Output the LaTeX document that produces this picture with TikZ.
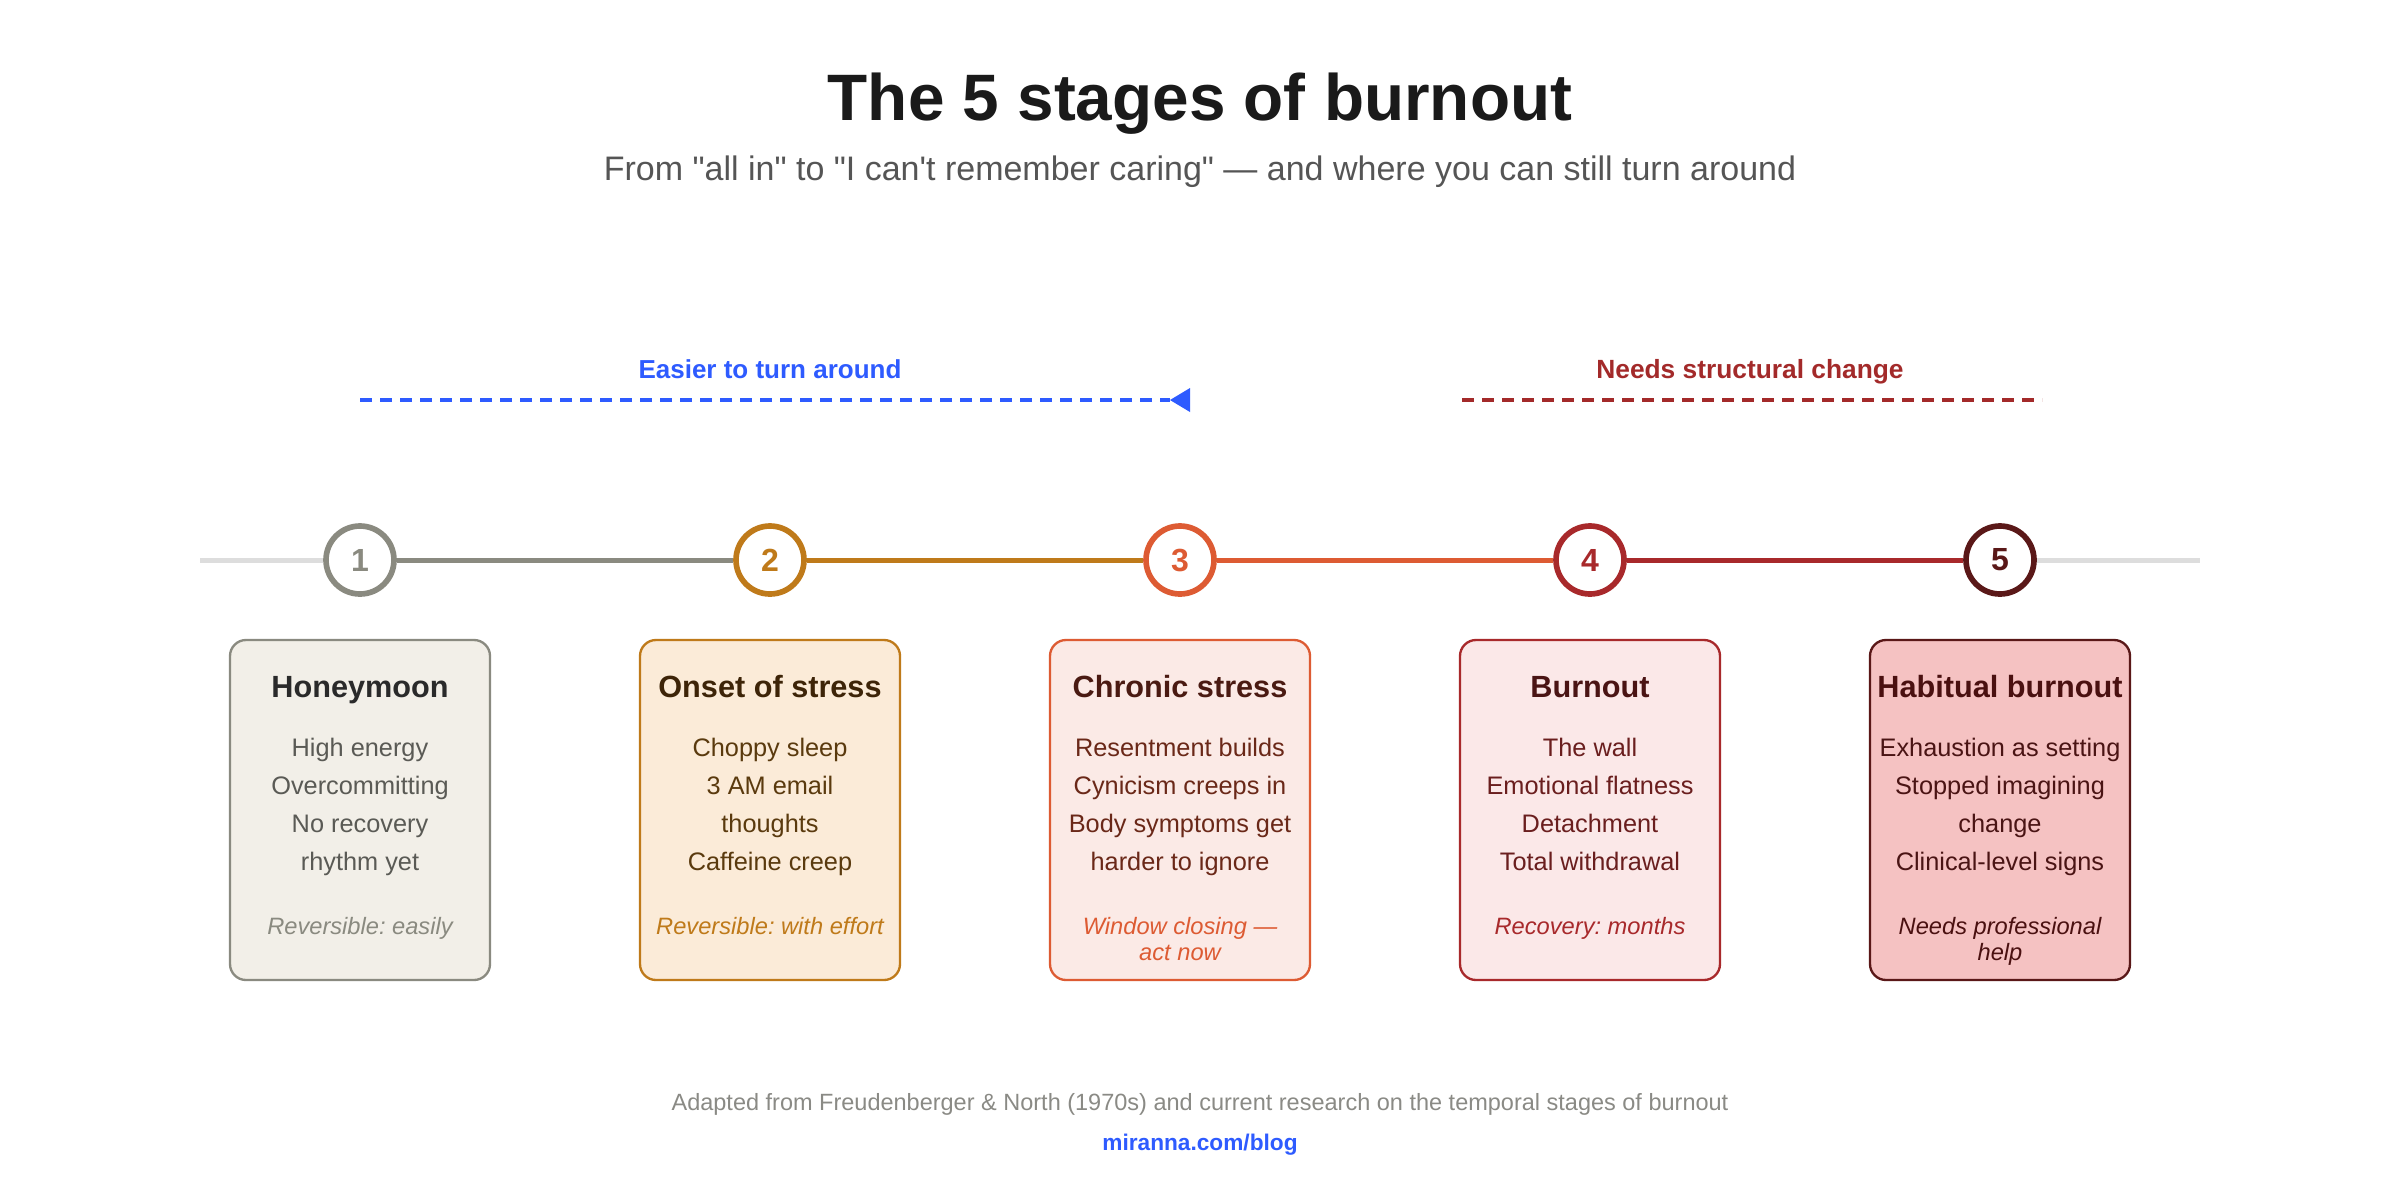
\documentclass[tikz,border=0pt]{standalone}
\usepackage{fontspec}
\setmainfont{Liberation Sans}[Ligatures=TeXOff]
\frenchspacing
\definecolor{ttl}{HTML}{1A1A1A}
\definecolor{sub}{HTML}{555555}
\definecolor{blu}{HTML}{2E5BFF}
\definecolor{redl}{HTML}{A32A2A}
\definecolor{lg}{HTML}{DDDDDD}
\definecolor{foot}{HTML}{8A8A85}
\definecolor{d1}{HTML}{8A8A80}\definecolor{f1}{HTML}{F2EFE8}\definecolor{t1}{HTML}{2A2A2A}\definecolor{x1}{HTML}{5A5A55}
\definecolor{d2}{HTML}{BF7A1A}\definecolor{f2}{HTML}{FBEBD8}\definecolor{t2}{HTML}{3D2408}\definecolor{x2}{HTML}{5A3A0E}
\definecolor{d3}{HTML}{DD5B33}\definecolor{f3}{HTML}{FBEAE6}\definecolor{t3}{HTML}{4A1A12}\definecolor{x3}{HTML}{6A2818}
\definecolor{d4}{HTML}{A8292B}\definecolor{f4}{HTML}{FBE8E8}\definecolor{t4}{HTML}{4A1414}\definecolor{x4}{HTML}{6A1E1E}
\definecolor{d5}{HTML}{5A1818}\definecolor{f5}{HTML}{F5C2C2}\definecolor{t5}{HTML}{4A1010}\definecolor{x5}{HTML}{4A1414}
\newcommand{\dq}{\symbol{34}}
\newcommand{\sq}{\symbol{39}}
\begin{document}
\begin{tikzpicture}[x=0.6pt,y=-0.6pt,
  txt/.style={anchor=base,inner sep=0pt,outer sep=0pt},
  cardtitle/.style={txt,font=\fontsize{9.2}{11}\selectfont\bfseries},
  cardbody/.style={txt,font=\fontsize{7.6}{9}\selectfont},
  cardnote/.style={txt,font=\fontsize{7.1}{8.5}\selectfont\itshape},
  cardbox/.style={draw,rounded corners=4.8pt,line width=0.7pt,minimum width=78pt,minimum height=102pt,inner sep=0pt},
  stage/.style={circle,draw,fill=white,line width=1.7pt,minimum size=20.4pt,inner sep=0pt,font=\fontsize{9.6}{11}\selectfont\bfseries},
  seg/.style={line width=1.5pt},
  zone/.style={line width=1.2pt,dash pattern=on 3.6pt off 2.4pt}]
\useasboundingbox[fill=white] (0,0) rectangle (1200,600);

% header
\node[txt,text=ttl,font=\fontsize{19.7}{22}\selectfont\bfseries] (title) at (600,60) {The 5 stages of burnout};
\node[txt,text=sub,font=\fontsize{10.2}{12}\selectfont] (subtitle) at (600,90) {From \dq all in\dq{} to \dq I can\sq t remember caring\dq{} — and where you can still turn around};

% zones
\node[txt,text=blu,font=\fontsize{7.8}{9}\selectfont\bfseries] (easy) at (385,189) {Easier to turn around};
\coordinate (bs) at (180,200);
\coordinate (be) at (585,200);
\draw[zone,blu] (bs) -- (be);
\fill[blu] (be) -- (595,194) -- (595,206) -- cycle;
\node[txt,text=redl,font=\fontsize{7.9}{9}\selectfont\bfseries] (hard) at (875,189) {Needs structural change};
\coordinate (rs) at (731,200);
\coordinate (re) at (1021,200);
\draw[zone,redl] (rs) -- (re);

% timeline
\coordinate (tl) at (100,280);
\coordinate (tr) at (1100,280);
\node[stage,draw=d1,text=d1] (c1) at (180,280) {1};
\node[stage,draw=d2,text=d2] (c2) at (385,280) {2};
\node[stage,draw=d3,text=d3] (c3) at (590,280) {3};
\node[stage,draw=d4,text=d4] (c4) at (795,280) {4};
\node[stage,draw=d5,text=d5] (c5) at (1000,280) {5};
\draw[seg,lg] (tl) -- (c1);
\draw[seg,d1] (c1) -- (c2);
\draw[seg,d2] (c2) -- (c3);
\draw[seg,d3] (c3) -- (c4);
\draw[seg,d4] (c4) -- (c5);
\draw[seg,lg] (c5) -- (tr);

% cards
\node[cardbox,draw=d1,fill=f1] (b1) at (180,405) {};
\node[cardtitle,text=t1] (b1t) at (180,348.5) {Honeymoon};
\node[cardbody,text=x1] (b1a) at (180,378) {High energy};
\node[cardbody,text=x1] (b1b) at (180,397) {Overcommitting};
\node[cardbody,text=x1] (b1c) at (180,416) {No recovery};
\node[cardbody,text=x1] (b1d) at (180,435) {rhythm yet};
\node[cardnote,text=d1] (b1n) at (180,467) {Reversible: easily};

\node[cardbox,draw=d2,fill=f2] (b2) at (385,405) {};
\node[cardtitle,text=t2] (b2t) at (385,348.5) {Onset of stress};
\node[cardbody,text=x2] (b2a) at (385,378) {Choppy sleep};
\node[cardbody,text=x2] (b2b) at (385,397) {3 AM email};
\node[cardbody,text=x2] (b2c) at (385,416) {thoughts};
\node[cardbody,text=x2] (b2d) at (385,435) {Caffeine creep};
\node[cardnote,text=d2] (b2n) at (385,467) {Reversible: with effort};

\node[cardbox,draw=d3,fill=f3] (b3) at (590,405) {};
\node[cardtitle,text=t3] (b3t) at (590,348.5) {Chronic stress};
\node[cardbody,text=x3] (b3a) at (590,378) {Resentment builds};
\node[cardbody,text=x3] (b3b) at (590,397) {Cynicism creeps in};
\node[cardbody,text=x3] (b3c) at (590,416) {Body symptoms get};
\node[cardbody,text=x3] (b3d) at (590,435) {harder to ignore};
\node[cardnote,text=d3] (b3n) at (590,467) {Window closing —};
\node[cardnote,text=d3] (b3m) at (590,480) {act now};

\node[cardbox,draw=d4,fill=f4] (b4) at (795,405) {};
\node[cardtitle,text=t4] (b4t) at (795,348.5) {Burnout};
\node[cardbody,text=x4] (b4a) at (795,378) {The wall};
\node[cardbody,text=x4] (b4b) at (795,397) {Emotional flatness};
\node[cardbody,text=x4] (b4c) at (795,416) {Detachment};
\node[cardbody,text=x4] (b4d) at (795,435) {Total withdrawal};
\node[cardnote,text=d4] (b4n) at (795,467) {Recovery: months};

\node[cardbox,draw=d5,fill=f5] (b5) at (1000,405) {};
\node[cardtitle,text=t5] (b5t) at (1000,348.5) {Habitual burnout};
\node[cardbody,text=x5] (b5a) at (1000,378) {Exhaustion as setting};
\node[cardbody,text=x5] (b5b) at (1000,397) {Stopped imagining};
\node[cardbody,text=x5] (b5c) at (1000,416) {change};
\node[cardbody,text=x5] (b5d) at (1000,435) {Clinical-level signs};
\node[cardnote,text=t5] (b5n) at (1000,467) {Needs professional};
\node[cardnote,text=t5] (b5m) at (1000,480) {help};

% footer
\node[txt,text=foot,font=\fontsize{7.05}{8.5}\selectfont] (src) at (600,555) {Adapted from Freudenberger \& North (1970s) and current research on the temporal stages of burnout};
\node[txt,text=blu,font=\fontsize{6.8}{8}\selectfont\bfseries] (url) at (600,575) {miranna.com/blog};
\end{tikzpicture}
\end{document}
